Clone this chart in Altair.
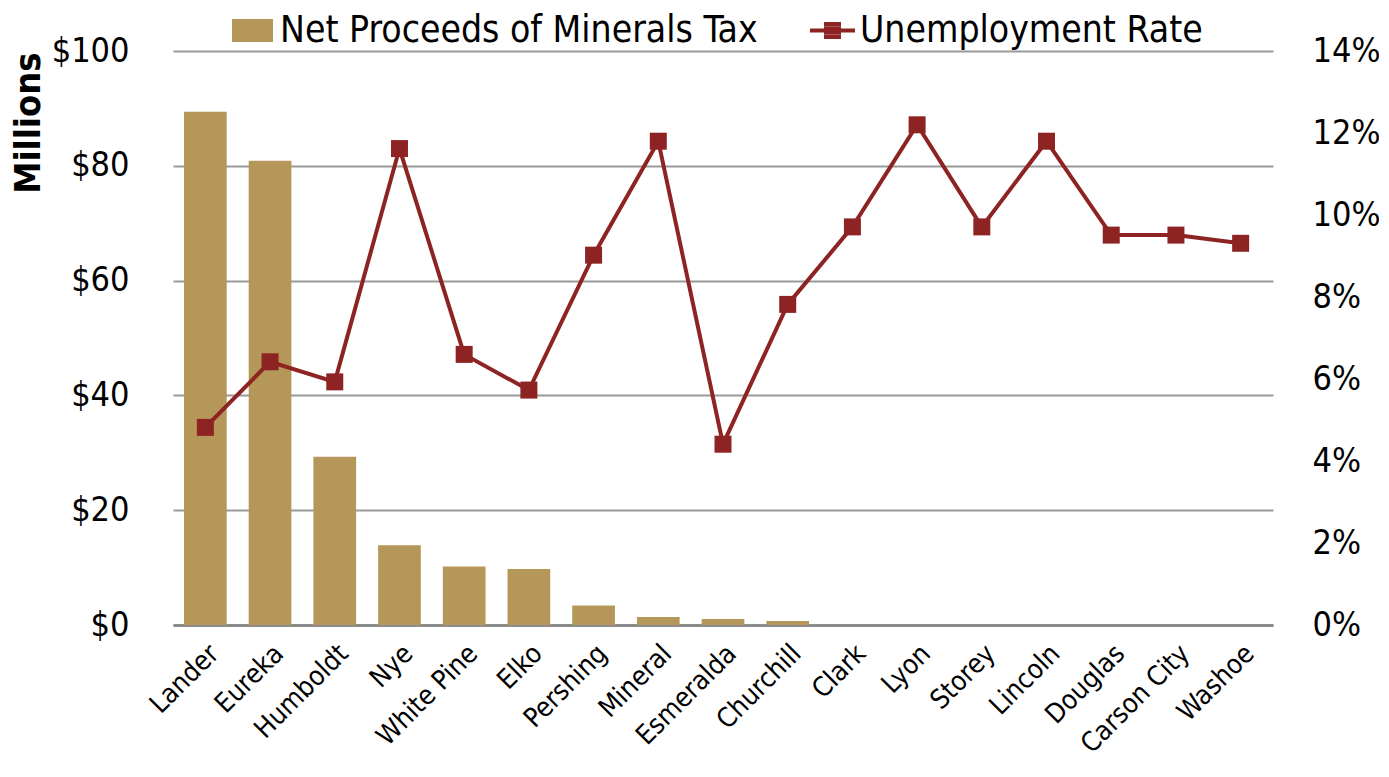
import altair as alt
import pandas as pd

counties = ["Lander", "Eureka", "Humboldt", "Nye", "White Pine", "Elko", "Pershing",
            "Mineral", "Esmeralda", "Churchill", "Clark", "Lyon", "Storey", "Lincoln",
            "Douglas", "Carson City", "Washoe"]
net_proceeds = [89.4, 80.9, 29.3, 13.9, 10.2, 9.75, 3.4, 1.4, 1.05, 0.7,
                0, 0, 0, 0, 0, 0, 0]
unemployment = [4.82, 6.42, 5.93, 11.62, 6.6, 5.73, 9.02, 11.8, 4.41, 7.82,
                9.71, 12.2, 9.71, 11.8, 9.51, 9.51, 9.31]
bar_name = "Net Proceeds of Minerals Tax"
line_name = "Unemployment Rate"

GOLD = "#B5975A"
RED = "#8E2323"
FONT = "DejaVu Sans Condensed, Roboto, sans-serif"

df = pd.DataFrame({
    "county": counties,
    "proceeds": net_proceeds,
    "rate": unemployment,
    "bar_series": [bar_name] * len(counties),
    "line_series": [line_name] * len(counties),
})

x_enc = alt.X("county:N", sort=counties,
              scale=alt.Scale(paddingInner=0.34, paddingOuter=0.17),
              axis=alt.Axis(title=None, labelAngle=315, labelAlign="right",
                            labelBaseline="top", labelPadding=15, labelFontSize=27,
                            ticks=False, domainColor="#8C8C8C", domainWidth=3,
                            labelColor="#000000"))

bars = alt.Chart(df).mark_bar().encode(
    x=x_enc,
    y=alt.Y("proceeds:Q",
            scale=alt.Scale(domain=[0, 100], nice=False),
            axis=alt.Axis(title="Millions", values=[0, 20, 40, 60, 80, 100],
                          labelExpr="'$' + datum.value", labelFontSize=34,
                          labelPadding=44, ticks=False, domain=False,
                          grid=True, gridColor="#9A9A9A", gridWidth=2,
                          titleFontSize=36, titleFontWeight="bold",
                          titleAngle=270, titleAlign="right", titleBaseline="middle",
                          titleX=-145, titleY=1, labelColor="#000000",
                          titleColor="#000000")),
    color=alt.Color("bar_series:N",
                    scale=alt.Scale(domain=[bar_name], range=[GOLD]),
                    legend=alt.Legend(title=None, orient="none", legendX=59, legendY=-41,
                                      symbolType="M-1,-0.56H1V0.56H-1Z", symbolSize=1681,
                                      symbolStrokeWidth=0, labelFontSize=37, labelOffset=7,
                                      labelLimit=0, labelColor="#000000", padding=0)),
)

line = alt.Chart(df).mark_line(strokeWidth=4).encode(
    x=alt.X("county:N", sort=counties),
    y=alt.Y("rate:Q", scale=alt.Scale(domain=[0, 14], nice=False),
            axis=alt.Axis(title=None, orient="right", values=[0, 2, 4, 6, 8, 10, 12, 14],
                          labelExpr="datum.value + '%'", labelFontSize=34,
                          labelPadding=39, ticks=False, domain=False, grid=False,
                          labelColor="#000000")),
    stroke=alt.Stroke("line_series:N", scale=alt.Scale(domain=[line_name], range=[RED]),
                      legend=alt.Legend(title=None, orient="none", legendX=635, legendY=-45,
                                        symbolType="M-1,0H1M-0.378,-0.289H0.378M-0.378,-0.096H0.378M-0.378,0.096H0.378M-0.378,0.289H0.378",
                                        symbolSize=2025, symbolStrokeWidth=4,
                                        labelFontSize=37, labelOffset=3, labelLimit=0,
                                        labelColor="#000000", padding=0)),
)

points = alt.Chart(df).mark_square(size=289, opacity=1, filled=True, color=RED).encode(
    x=alt.X("county:N", sort=counties),
    y=alt.Y("rate:Q"),
)

chart = alt.layer(bars, alt.layer(line, points)).resolve_scale(
    y="independent"
).properties(
    width=1100, height=574,
    autosize=alt.AutoSizeParams(type="none"),
    padding={"left": 165, "top": 43, "right": 106, "bottom": 136},
).configure(
    font=FONT,
).configure_view(stroke=None)

chart.save("out.html", embed_options={"renderer": "svg", "actions": False})
